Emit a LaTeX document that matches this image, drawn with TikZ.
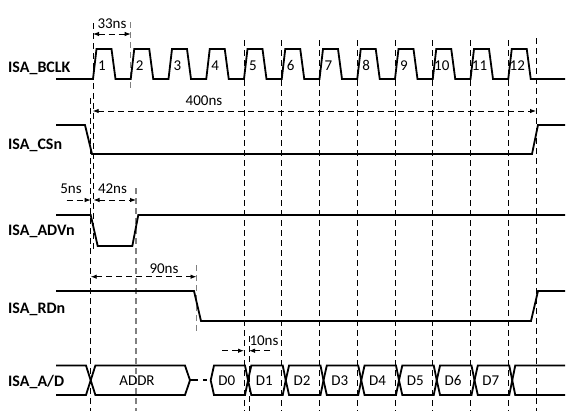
\documentclass[tikz,border=0pt]{standalone}
\usepackage{fontspec}
\setmainfont{Carlito}
\usetikzlibrary{arrows.meta, positioning}

\begin{document}
\begin{tikzpicture}[
				x=1pt, y=-1pt,
				font=\fontsize{15}{18}\selectfont,
				>={Latex[length=6pt, width=4.5pt]},
				wave/.style={
					line width=1.8pt,
					line join=miter
				},
				guide/.style={
					dash pattern=on 6pt off 4pt,
					line width=0.9pt
				},
				guidegray/.style={
					guide,
					draw=black!50,
					line width=1.4pt
				},
				dim/.style={
					dash pattern=on 6pt off 4pt,
					line width=0.9pt
				},
				signame/.style={
					anchor=base west,
					inner sep=0pt,
					font=\fontsize{16}{19}\selectfont\bfseries
				},
				lbl/.style={
					anchor=base,
					inner sep=0pt
				}
				]
				
				\useasboundingbox (0,0) rectangle (570,416);
				
				% Signal names
				\node[signame] (bclk) at (8,72) {ISA\_BCLK};
				\node[signame] (csn) at (8,149.5) {ISA\_CSn};
				\node[signame] (advn) at (8,235) {ISA\_ADVn};
				\node[signame] (rdn) at (8,313) {ISA\_RDn};
				\node[signame] (ad) at (8,386) {ISA\_A/D};
				
				% Guide lines
				\draw[guide] (93,23) -- (93,250);
				\draw[guide] (90.7,98) -- (90.7,411);
				\draw[guidegray] (130.7,22) -- (130.7,90);
				\draw[guidegray] (136,188) -- (136,411);
				\draw[guidegray] (196.5,265) -- (196.5,333);
				\foreach \x in {244,281.75,319.5,357.25,395,432.75,470.5,508.25}
					\draw[guide] (\x,40) -- (\x,411);
				\draw[guide] (249,336) -- (249,411);
				\draw[guide] (536,38) -- (536,411);
				
				% Clock: ISA_BCLK
				\draw[wave] (56,79)
					foreach \k in {0,...,11} {
						-- ({93+37.75*\k},79) -- ({96.5+37.75*\k},49)
						-- ({111.5+37.75*\k},49) -- ({115.5+37.75*\k},79)
					} -- (565,79);
				\foreach \k in {1,...,12}
					\node[lbl] (n\k) at ({102+37.75*(\k-1)},70) {\k};
				
				% Chip select: ISA_CSn
				\draw[wave] (56,125) -- (85,125) -- (92,154) -- (532,154) -- (538,125) -- (565,125);
				
				% Address valid: ISA_ADVn
				\draw[wave] (56,215) -- (90.7,215) -- (97.7,246) -- (132.3,246) -- (138.3,215) -- (565,215);
				
				% Read: ISA_RDn
				\draw[wave] (56,291) -- (194,291) -- (201,321) -- (531,321) -- (538,291) -- (565,291);
				
				% Bus: ISA_A/D
				\draw[wave] (56,365.5) -- (86,365.5) -- (90.7,380.3) -- (86,395) -- (56,395);
				\draw[wave] (90.7,380.3) -- (95.4,365.5) -- (185,365.5) -- (190,380.3) -- (185,395) -- (95.4,395) -- cycle;
				\node[lbl] (addr) at (137,385.5) {ADDR};
				\draw[wave] (190,380.3) -- (198,380.3);
				\draw[wave] (203,380.3) -- (206.5,380.3);
				\foreach \a/\b/\t [count=\i from 0] in {210.7/248/D0, 248/285.75/D1, 285.75/323.5/D2,
						323.5/361.25/D3, 361.25/399/D4, 399/436.75/D5, 436.75/474.5/D6, 474.5/512.25/D7} {
					\draw[wave] (\a,380.3) -- ({\a+3.3},365.5) -- ({\b-3},365.5) -- (\b,380.3)
						-- ({\b-3},395) -- ({\a+3.3},395) -- cycle;
					\node[lbl] (d\i) at ({(\a+\b)/2-2.5},385.5) {\t};
				}
				\draw[wave] (565,365.5) -- (515.25,365.5) -- (512.25,380.3) -- (515.25,395) -- (565,395);
				
				% Timing marks
				\coordinate (p33a) at (93,34);
				\coordinate (p33b) at (130.7,34);
				\draw[dim, <->] (p33a) -- (p33b);
				\node[lbl] (t33) at (112,28) {33ns};
				
				\coordinate (p400a) at (92.7,111);
				\coordinate (p400b) at (536,111);
				\draw[dim, <->] (p400a) -- (p400b);
				\node[lbl] (t400) at (204,105) {400ns};
				
				\coordinate (p5a) at (66.7,200);
				\coordinate (p5b) at (90.7,200);
				\draw[dim, ->] (p5a) -- (p5b);
				\node[lbl] (t5) at (71,193) {5ns};
				
				\coordinate (p42a) at (93.5,200);
				\coordinate (p42b) at (136,200);
				\draw[dim, <->] (p42a) -- (p42b);
				\node[lbl] (t42) at (112.5,193) {42ns};
				
				\coordinate (p90a) at (90.7,276.7);
				\coordinate (p90b) at (196.5,276.7);
				\draw[dim, <->] (p90a) -- (p90b);
				\node[lbl] (t90) at (164,273) {90ns};
				
				\coordinate (p10a) at (222,350.7);
				\coordinate (p10b) at (244,350.7);
				\coordinate (p10c) at (270,350.7);
				\coordinate (p10d) at (249,350.7);
				\draw[dim, ->] (p10a) -- (p10b);
				\draw[dim, ->] (p10c) -- (p10d);
				\node[lbl] (t10) at (264,345) {10ns};
				
			\end{tikzpicture}
\end{document}
